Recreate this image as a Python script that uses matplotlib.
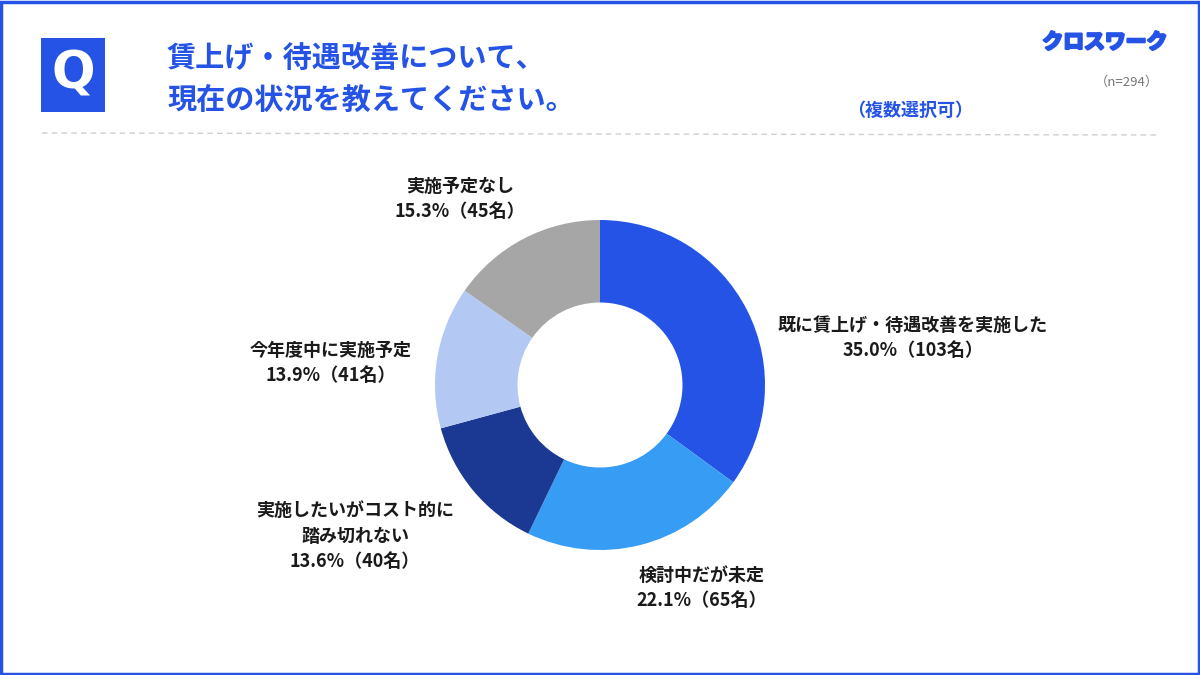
import matplotlib
matplotlib.use("Agg")
import matplotlib.pyplot as plt
import matplotlib.patheffects as pe
from matplotlib.patches import Rectangle
from matplotlib.lines import Line2D

plt.rcParams['font.family'] = ['Noto Sans CJK JP', 'DejaVu Sans']

# data
categories = ["既に賃上げ・待遇改善を実施した", "検討中だが未定",
              "実施したいがコスト的に\n踏み切れない", "今年度中に実施予定", "実施予定なし"]
percents = [35.0, 22.1, 13.6, 13.9, 15.3]
counts = [103, 65, 40, 41, 45]
colors = ["#2453E6", "#379CF4", "#1B3893", "#B4C8F4", "#A6A6A6"]

BLUE = "#2453E6"
W, H = 1200, 675

def fx(x):
    return x / W

def fy(y):
    return 1 - y / H

fig = plt.figure(figsize=(12, 6.75), dpi=100)
fig.patch.set_facecolor("white")

# outer frame
fig.patches.append(Rectangle((0.001, 0.002), 0.998, 0.995, transform=fig.transFigure,
                             fill=False, edgecolor=BLUE, linewidth=2.5))

# Q box
fig.patches.append(Rectangle((fx(41), fy(112)), fx(105) - fx(41), fy(38) - fy(112),
                             transform=fig.transFigure, facecolor=BLUE, edgecolor="none"))
fig.text(fx(73), fy(75), "Q", color="white", fontsize=37, fontweight="bold",
         family="DejaVu Sans", ha="center", va="center")

fig.text(fx(167), fy(58), "賃上げ・待遇改善について、", color=BLUE, fontsize=21,
         fontweight="bold", ha="left", va="center")
fig.text(fx(167), fy(100), "現在の状況を教えてください。", color=BLUE, fontsize=21,
         fontweight="bold", ha="left", va="center")

fig.text(fx(910), fy(110), "（複数選択可）", color=BLUE, fontsize=13,
         fontweight="bold", ha="center", va="center")
fig.text(fx(1159), fy(82), "（n=294）", color="#777777", fontsize=9.5,
         ha="right", va="center")
fig.text(fx(1105), fy(42), "クロスワーク", color=BLUE, fontsize=15,
         fontweight="bold", ha="center", va="center",
         path_effects=[pe.withStroke(linewidth=1.8, foreground=BLUE)])

fig.lines.append(Line2D([fx(42), fx(1160)], [fy(133), fy(135)], transform=fig.transFigure,
                        color="#cfcfcf", linewidth=1, linestyle=(0, (4, 3))))

# donut
ax = fig.add_axes([fx(435), fy(550), fx(330), fy(220) - fy(550)])
ax.pie(percents, colors=colors, startangle=90, counterclock=False,
       wedgeprops=dict(width=0.5, linewidth=0))
ax.set_xlim(-1, 1)
ax.set_ylim(-1, 1)
ax.set_aspect("equal")
ax.axis("off")

# labels
label_pos = [(913, 338), (702, 588), (355, 536), (331, 363), (460, 199)]
for cat, p, n, (x, y) in zip(categories, percents, counts, label_pos):
    fig.text(fx(x), fy(y), f"{cat}\n{p:.1f}%（{n}名）", fontsize=13, fontweight="bold",
             color="#1a1a1a", ha="center", va="center", linespacing=1.4)

fig.savefig("out.png", dpi=100)
